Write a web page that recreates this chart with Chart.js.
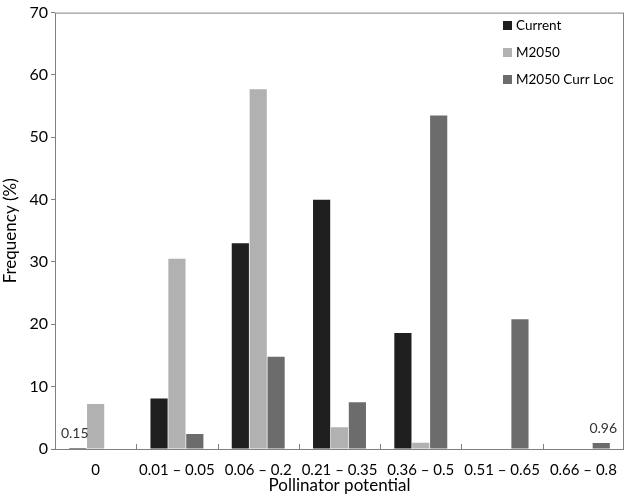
<!DOCTYPE html>
<html><head><meta charset="utf-8">
<script src="https://cdn.jsdelivr.net/npm/chart.js@4/dist/chart.umd.min.js"></script>
<style>html,body{margin:0;padding:0;background:#fff}#w{width:626px;height:497px}</style>
</head><body><div id="w"><canvas id="c" width="626" height="497"></canvas></div>
<script>
const categories = ["0","0.01 \u2013 0.05","0.06 \u2013 0.2","0.21 \u2013 0.35","0.36 \u2013 0.5","0.51 \u2013 0.65","0.66 \u2013 0.8"];
const current = [0.15, 8.1, 33.0, 40.0, 18.6, 0, 0];
const m2050 = [7.2, 30.5, 57.7, 3.5, 1.0, 0, 0];
const m2050CurrLoc = [0, 2.4, 14.8, 7.5, 53.5, 20.8, 0.96];
const seriesNames = ["Current", "M2050", "M2050 Curr Loc"];
const colors = ["#1f1f1f", "#b1b1b1", "#6c6c6c"];
const annotations = [{ds:0, idx:0, text:"0.15"}, {ds:2, idx:6, text:"0.96"}];
const FONT = "Lato, 'Open Sans', sans-serif";

const framePlugin = {
  id: 'frame',
  afterDraw(chart) {
    const {ctx, chartArea: a, scales: {x}} = chart;
    ctx.save();
    ctx.strokeStyle = '#808080'; ctx.lineWidth = 1;
    ctx.strokeRect(a.left + 0.5, a.top + 0.5, a.right - a.left - 1, a.bottom - a.top);
    for (let i = 1; i < categories.length; i++) {
      const px = Math.round((x.getPixelForValue(i - 1) + x.getPixelForValue(i)) / 2) + 0.5;
      ctx.beginPath(); ctx.moveTo(px, a.bottom); ctx.lineTo(px, a.bottom - 5); ctx.stroke();
    }
    ctx.fillStyle = '#333'; ctx.font = '14px ' + FONT; ctx.textAlign = 'center'; ctx.textBaseline = 'bottom';
    annotations.forEach(an => {
      const el = chart.getDatasetMeta(an.ds).data[an.idx];
      const dx = an.ds === 0 ? -3 : 2;
      ctx.fillText(an.text, el.x + dx, el.y - 8);
    });
    ctx.font = '13.5px ' + FONT; ctx.textAlign = 'left'; ctx.textBaseline = 'middle';
    seriesNames.forEach((n, i) => {
      const y = 25 + i * 27;
      ctx.fillStyle = colors[i];
      ctx.fillRect(503, y - 4, 9, 9);
      ctx.fillStyle = '#000';
      ctx.fillText(n, 516, y + 1);
    });
    ctx.restore();
  }
};

new Chart(document.getElementById('c'), {
  type: 'bar',
  data: {
    labels: categories,
    datasets: [
      {label: seriesNames[0], data: current, backgroundColor: colors[0]},
      {label: seriesNames[1], data: m2050, backgroundColor: colors[1]},
      {label: seriesNames[2], data: m2050CurrLoc, backgroundColor: colors[2]}
    ]
  },
  options: {
    responsive: false, animation: false,
    layout: {padding: {top: 5, right: 2, left: 0, bottom: 0}},
    datasets: {bar: {categoryPercentage: 0.66, barPercentage: 0.96}},
    plugins: {legend: {display: false}, tooltip: {enabled: false}},
    scales: {
      x: {
        grid: {display: false},
        border: {display: false},
        ticks: {color: '#000', font: {family: FONT, size: 15}, padding: 4, maxRotation: 0, autoSkip: false},
        title: {display: true, text: 'Pollinator potential', color: '#000', font: {family: FONT, size: 17}, padding: {top: 2, bottom: 1}},
        afterFit(s) { s.height = 48; }
      },
      y: {
        min: 0, max: 70,
        grid: {drawOnChartArea: false, drawTicks: true, tickLength: 4, color: '#808080'},
        border: {display: false},
        ticks: {stepSize: 10, color: '#000', font: {family: FONT, size: 16}, padding: 3},
        title: {display: true, text: 'Frequency (%)', color: '#000', font: {family: FONT, size: 17}, padding: {top: 0, bottom: 1}},
        afterFit(s) { s.width = 55; }
      }
    }
  },
  plugins: [framePlugin]
});
</script>
</body></html>
